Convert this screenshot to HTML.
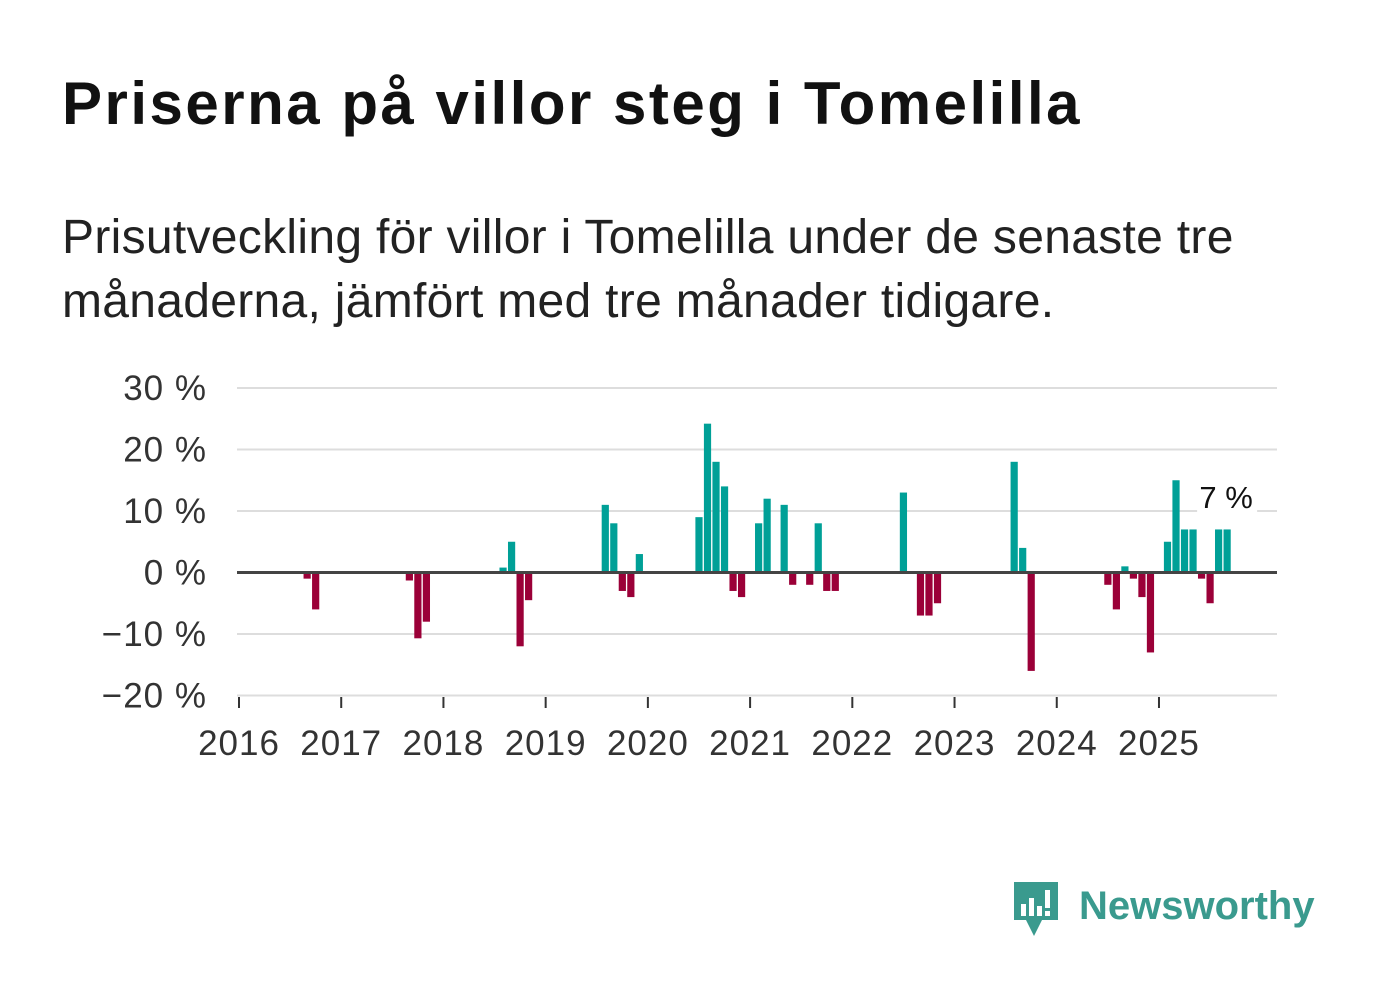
<!DOCTYPE html>
<html><head><meta charset="utf-8">
<style>
body{margin:0;background:#fff;width:1382px;height:999px;overflow:hidden;font-family:"Liberation Sans",sans-serif;}
#title{position:absolute;left:62px;top:74px;font-size:60px;line-height:60px;font-weight:bold;color:#111;letter-spacing:2.5px;white-space:nowrap}
#sub{position:absolute;left:62px;top:206px;font-size:48px;line-height:64px;color:#222;width:1240px;letter-spacing:0.3px}
#logo{position:absolute;left:1012px;top:880px}
</style></head><body>
<div id="title">Priserna på villor steg i Tomelilla</div>
<div id="sub">Prisutveckling för villor i Tomelilla under de senaste tre månaderna, jämfört med tre månader tidigare.</div>
<svg id="chart" width="1382" height="999" style="position:absolute;left:0;top:0"></svg>
<div id="logo">
<svg width="320" height="62">
<path d="M2 2 h44 v38 h-16 l-8 16 l-8 -16 h-12 z" fill="#3a9a8e"/>
<rect x="9" y="24" width="5" height="12" fill="#fff"/><rect x="17" y="18" width="5" height="18" fill="#fff"/><rect x="25" y="26" width="5" height="10" fill="#fff"/><rect x="33" y="10" width="5" height="18" fill="#fff"/><rect x="33" y="31" width="5" height="5" fill="#fff"/>
<text x="67" y="39" font-family="Liberation Sans, sans-serif" font-size="40" font-weight="bold" fill="#3a9a8e">Newsworthy</text>
</svg></div>
<script>
const monthIdx=[8,9,20,21,22,31,32,33,34,43,44,45,46,47,54,55,56,57,58,59,61,62,64,65,67,68,69,70,78,80,81,82,91,92,93,102,103,104,105,106,107,109,110,111,112,113,114,115,116];
const values=[-1,-6,-1.3,-10.7,-8,0.8,5,-12,-4.5,11,8,-3,-4,3,9,24.2,18,14,-3,-4,8,12,11,-2,-2,8,-3,-3,13,-7,-7,-5,18,4,-16,-2,-6,1,-1,-4,-13,5,15,7,7,-1,-5,7,7];
const yTicks=[30,20,10,0,-10,-20];
const yearLabels=["2016","2017","2018","2019","2020","2021","2022","2023","2024","2025"];
const NS="http://www.w3.org/2000/svg";
const svg=document.getElementById('chart');
const x0=239,yearW=102.22,left=237,right=1277;
function xs(m){return x0+m*yearW/12;}
function ys(v){return 572.5-v*6.15;}
function mk(t,a){const e=document.createElementNS(NS,t);for(const k in a)e.setAttribute(k,a[k]);svg.appendChild(e);return e;}
yTicks.forEach(v=>{
 if(v!==0){const g=mk('line',{x1:left,x2:right,y1:ys(v),y2:ys(v),stroke:'#ddd','stroke-width':2});
 
 }
 const t=mk('text',{x:207,y:ys(v)+12,'text-anchor':'end','font-size':35,'letter-spacing':1,fill:'#333'});
 t.textContent=(v<0?'\u2212'+(-v):v)+' %';
 
 
});
values.forEach((v,i)=>{
 const cx=xs(monthIdx[i]);
 const r=mk('rect',{x:cx-3.6,width:7.2,y:Math.min(ys(v),ys(0)),height:Math.abs(ys(v)-ys(0)),fill:v>=0?'#00a097':'#9b0038'});
 
 
});
const z=mk('line',{x1:left,x2:right,y1:ys(0),y2:ys(0),stroke:'#444','stroke-width':3});


yearLabels.forEach((l,i)=>{
 const x=xs(i*12);
 const tk=mk('line',{x1:x,x2:x,y1:697,y2:708,stroke:'#333','stroke-width':2});
 
 
 const t=mk('text',{x:x,y:755,'text-anchor':'middle','font-size':35,'letter-spacing':1,fill:'#333'});
 t.textContent=l;
 
 
});
const lastI=values.length-1;
const bg=mk('rect',{x:xs(monthIdx[lastI])-30,y:480,width:60,height:34,fill:'#fff'});


const an=mk('text',{x:xs(monthIdx[lastI])-1,y:508,'text-anchor':'middle','font-size':31,fill:'#111'});
an.textContent=Math.round(values[lastI])+' %';


</script>
</body></html>
